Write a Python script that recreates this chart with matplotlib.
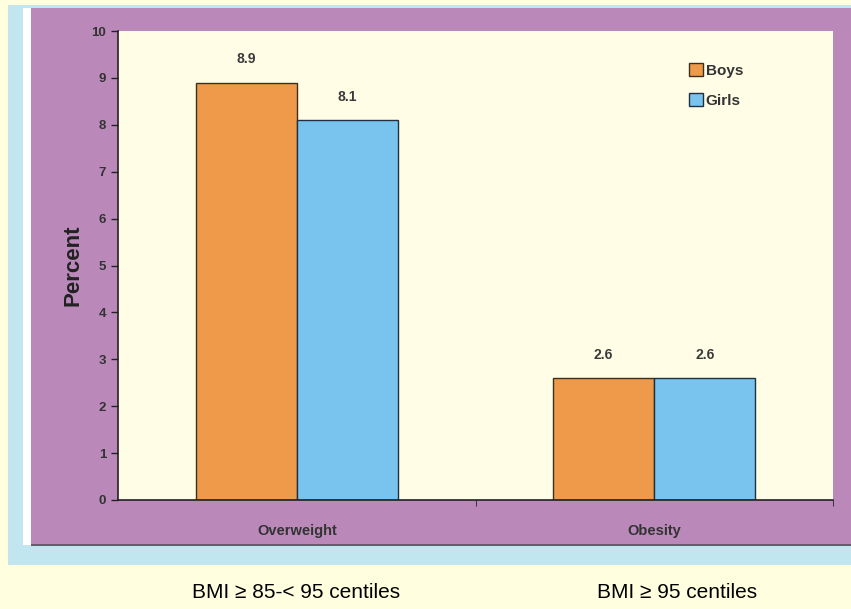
import matplotlib.pyplot as plt
from matplotlib.patches import Rectangle
from matplotlib.ticker import FixedLocator
import numpy as np

categories = ["Overweight", "Obesity"]
boys = [8.9, 2.6]
girls = [8.1, 2.6]
notes = ["BMI \u2265 85-< 95 centiles", "BMI \u2265 95 centiles"]

W, H = 851, 609
plt.rcParams["font.family"] = ["Liberation Sans", "DejaVu Sans"]

fig = plt.figure(figsize=(W / 100, H / 100), dpi=100, facecolor="#FFFFE0")


def px_rect(x0, y0, x1, y1, **kw):
    # pixel box (top-left origin) -> figure coords, kept behind the axes
    fig.patches.append(Rectangle((x0 / W, 1 - y1 / H), (x1 - x0) / W, (y1 - y0) / H,
                                 transform=fig.transFigure, zorder=-10, **kw))


px_rect(8, 5, 851, 565, facecolor="#C2E6F0", edgecolor="none")
px_rect(23, 8, 31, 545, facecolor="#FFFFFF", edgecolor="none")
px_rect(31, 8, 851, 545, facecolor="#BA89BA", edgecolor="none")
px_rect(31, 544, 851, 546, facecolor="#6E5A6E", edgecolor="none")

ax = fig.add_axes([118 / W, 1 - 500 / H, (833 - 118) / W, (500 - 31) / H])
ax.set_facecolor("#FFFDE6")

x = np.arange(len(categories))
w = 0.283
b1 = ax.bar(x - w / 2, boys, w, color="#EE9A4A", edgecolor="#3a3020", linewidth=1.0, label="Boys")
b2 = ax.bar(x + w / 2, girls, w, color="#78C4EE", edgecolor="#203040", linewidth=1.0, label="Girls")

for bars, vals in ((b1, boys), (b2, girls)):
    for rect, v in zip(bars, vals):
        ax.text(rect.get_x() + rect.get_width() / 2, v + 0.35, f"{v}", ha="center", va="bottom",
                fontsize=10, fontweight="bold", color="#3a3a3a")

ax.set_xlim(-0.5, 1.5)
ax.set_ylim(0, 10)
ax.set_yticks(range(0, 11))
ax.set_xticks(x)
ax.set_xticklabels(categories, fontsize=10.5, fontweight="bold", color="#333333")
ax.xaxis.set_minor_locator(FixedLocator([0.5, 1.5]))
ax.tick_params(axis="x", which="major", length=0, pad=17)
ax.tick_params(axis="x", which="minor", length=4, direction="out", color="#222222")
ax.tick_params(axis="y", length=5, width=1, color="#222222", labelsize=9.5, labelcolor="#333333")
for lbl in ax.get_yticklabels():
    lbl.set_fontweight("bold")

for s in ("top", "right"):
    ax.spines[s].set_visible(False)
for s in ("left", "bottom"):
    ax.spines[s].set_color("#222222")
    ax.spines[s].set_linewidth(1.2)

ax.set_ylabel("Percent", fontsize=16, fontweight="bold", color="#222222", labelpad=6)

leg = ax.legend(loc="upper left", bbox_to_anchor=(0.79, 0.944), frameon=False, fontsize=11,
                handlelength=0.9, handleheight=0.9, handletextpad=0.2, labelspacing=1.0,
                borderaxespad=0)
for t in leg.get_texts():
    t.set_fontweight("bold")
    t.set_color("#333333")

for xc, note in zip([296, 677], notes):
    fig.text(xc / W, 1 - 592 / H, note, ha="center", va="center", fontsize=15, color="black")

fig.savefig("out.png", dpi=100, facecolor=fig.get_facecolor())
